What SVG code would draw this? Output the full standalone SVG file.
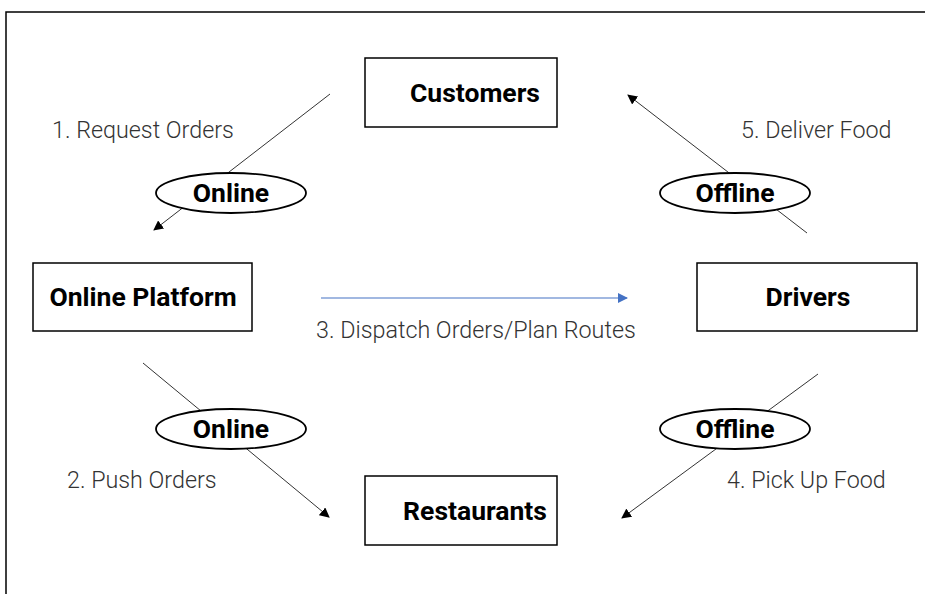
<svg xmlns="http://www.w3.org/2000/svg" width="925" height="594" viewBox="0 0 925 594">
<defs>
<style>
.box{fill:#fff;stroke:#000;stroke-width:1.5}
.ell{fill:#fff;stroke:#000;stroke-width:1.8}
.bl{font-family:"Roboto","Liberation Sans",sans-serif;font-weight:bold;font-size:26.5px;fill:#000;text-anchor:middle}
.el{font-family:"Roboto","Liberation Sans",sans-serif;font-weight:bold;font-size:26.5px;fill:#000;text-anchor:middle}
.st{font-family:"Roboto","Noto Sans",sans-serif;font-weight:300;font-size:23.3px;fill:#333}
.ln{stroke:#333;stroke-width:1;fill:none}
</style>
<marker id="ah" viewBox="0 0 10 10" refX="9" refY="5" markerWidth="10" markerHeight="10" markerUnits="userSpaceOnUse" orient="auto"><path d="M0,0 L10,5 L0,10 z" fill="#000"/></marker>
<marker id="ahb" viewBox="0 0 10 10" refX="9" refY="5" markerWidth="10" markerHeight="10" markerUnits="userSpaceOnUse" orient="auto"><path d="M0,0 L10,5 L0,10 z" fill="#4472C4"/></marker>
</defs>
<rect width="925" height="594" fill="#fff"/>
<rect x="6" y="12" width="940" height="600" fill="none" stroke="#000" stroke-width="1.5"/>
<g id="connectors">
<line class="ln" x1="330" y1="94" x2="154" y2="230" marker-end="url(#ah)"/>
<line class="ln" x1="807" y1="233" x2="628" y2="95" marker-end="url(#ah)"/>
<line class="ln" x1="143" y1="363" x2="329" y2="517" marker-end="url(#ah)"/>
<line class="ln" x1="818" y1="374" x2="622" y2="518" marker-end="url(#ah)"/>
<line x1="321" y1="298" x2="627" y2="298" stroke="#4472C4" stroke-width="1.2" marker-end="url(#ahb)"/>
</g>
<g id="customers"><rect class="box" x="365" y="58" width="192" height="69"/><text class="bl" x="475" y="102">Customers</text></g>
<g id="platform"><rect class="box" x="33" y="263" width="219" height="68"/><text class="bl" x="143" y="306">Online Platform</text></g>
<g id="drivers"><rect class="box" x="697" y="263" width="220" height="68"/><text class="bl" x="808" y="306">Drivers</text></g>
<g id="restaurants"><rect class="box" x="365" y="476" width="192" height="69"/><text class="bl" x="475" y="520">Restaurants</text></g>
<g id="online1"><ellipse class="ell" cx="231" cy="193" rx="75" ry="20"/><text class="el" x="231" y="202">Online</text></g>
<g id="offline1"><ellipse class="ell" cx="735" cy="193" rx="75" ry="20"/><text class="el" x="735" y="202">Offline</text></g>
<g id="online2"><ellipse class="ell" cx="231" cy="429" rx="75" ry="20"/><text class="el" x="231" y="438">Online</text></g>
<g id="offline2"><ellipse class="ell" cx="735" cy="429" rx="75" ry="20"/><text class="el" x="735" y="438">Offline</text></g>
<g id="labels">
<text class="st" x="52" y="138">1. Request Orders</text>
<text class="st" x="741" y="138">5. Deliver Food</text>
<text class="st" x="316" y="338">3. Dispatch Orders/Plan Routes</text>
<text class="st" x="67" y="488">2. Push Orders</text>
<text class="st" x="727" y="488">4. Pick Up Food</text>
</g>
</svg>
